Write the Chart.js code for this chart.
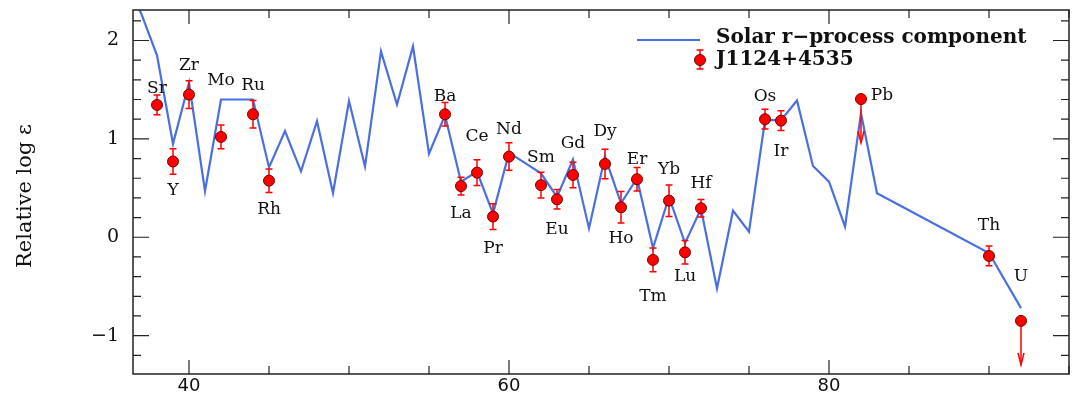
<!DOCTYPE html>
<html>
<head>
<meta charset="utf-8">
<script src="https://cdn.jsdelivr.net/npm/chart.js@4.4.0/dist/chart.umd.min.js"></script>
<style>
  html, body { margin: 0; padding: 0; background: #fff; }
  #wrap { width: 1078px; height: 409px; position: relative; }
</style>
</head>
<body>
<div id="wrap"><canvas id="chart_rproc"></canvas></div>
<script>
// solar r-process pattern (scaled)
var solarZ = [36, 37, 38, 39, 40, 41, 42, 44, 45, 46, 47, 48, 49, 50, 51, 52, 53, 54, 55, 56,
              57, 58, 59, 60, 62, 63, 64, 65, 66, 67, 68, 69, 70, 71, 72, 73, 74, 75, 76, 77,
              78, 79, 80, 81, 82, 83, 90, 92];
var solarVal = [2.6, 2.28, 1.85, 0.95, 1.57, 0.47, 1.40, 1.40, 0.71, 1.08, 0.67, 1.18, 0.45, 1.385, 0.72, 1.89, 1.35, 1.94, 0.85, 1.24,
                0.565, 0.667, 0.24, 0.86, 0.65, 0.41, 0.79, 0.09, 0.82, 0.345, 0.60, -0.11, 0.41, -0.06, 0.29, -0.52, 0.27, 0.057, 1.19, 1.19,
                1.39, 0.725, 0.565, 0.108, 1.26, 0.447, -0.16, -0.72];

// J1124+4535 abundances
var elements = ['Sr', 'Y', 'Zr', 'Mo', 'Ru', 'Rh', 'Ba', 'La', 'Ce', 'Pr', 'Nd', 'Sm', 'Eu', 'Gd', 'Dy', 'Ho', 'Er',
                'Tm', 'Yb', 'Lu', 'Hf', 'Os', 'Ir', 'Pb', 'Th', 'U'];
var starZ = [38, 39, 40, 42, 44, 45, 56, 57, 58, 59, 60, 62, 63, 64, 66, 67, 68, 69, 70, 71, 72, 76, 77, 82, 90, 92];
var starVal = [1.345, 0.77, 1.45, 1.02, 1.25, 0.575, 1.25, 0.52, 0.657, 0.21, 0.82, 0.53, 0.386, 0.633, 0.745, 0.305, 0.59,
               -0.23, 0.372, -0.153, 0.295, 1.20, 1.185, 1.405, -0.19, -0.85];
var starErr = [0.10, 0.13, 0.14, 0.12, 0.14, 0.12, 0.12, 0.09, 0.13, 0.13, 0.14, 0.13, 0.10, 0.13, 0.15, 0.16, 0.12,
               0.12, 0.16, 0.12, 0.09, 0.10, 0.10, 0, 0.10, 0];
var upperLimit = ['Pb', 'U'];

var xTicks = [40, 60, 80];
var yTicks = [-1, 0, 1, 2];

// label offsets from the point, in px
var labelOffset = {
    Sr: [0, -16], Y: [0, 29], Zr: [0, -29], Mo: [0, -56], Ru: [0, -29], Rh: [0, 29], Ba: [0, -18],
    La: [0, 27], Ce: [0, -36], Pr: [0, 32], Nd: [0, -27], Sm: [0, -28], Eu: [0, 30], Gd: [0, -31],
    Dy: [0, -32], Ho: [0, 31], Er: [0, -20], Tm: [0, 37], Yb: [0, -31], Lu: [0, 24], Hf: [0, -25],
    Os: [0, -23], Ir: [0, 31], Pb: [21, -3], Th: [0, -30], U: [0, -44]
};

var blue = '#4a6fe0';
var red = '#ff0000';
var serif = "'DejaVu Serif', serif";

var solarPts = solarZ.map(function (z, i) { return { x: z, y: solarVal[i] }; });
var starPts = starZ.map(function (z, i) { return { x: z, y: starVal[i] }; });

function drawArrow(ctx, x, y0, y1) {
    ctx.beginPath();
    ctx.moveTo(x, y0);
    ctx.lineTo(x, y1);
    ctx.stroke();
    ctx.beginPath();
    ctx.moveTo(x - 3, y1 - 12);
    ctx.lineTo(x, y1);
    ctx.lineTo(x + 3, y1 - 12);
    ctx.stroke();
}

var decorPlugin = {
    id: 'decor',
    afterDatasetDraw: function (chart, args) {
        if (args.index !== 0) return;
        var ctx = chart.ctx, xs = chart.scales.x, ys = chart.scales.y;
        ctx.save();
        ctx.strokeStyle = red;
        ctx.lineWidth = 1.5;
        starZ.forEach(function (z, i) {
            var px = xs.getPixelForValue(z);
            var py = ys.getPixelForValue(starVal[i]);
            if (upperLimit.indexOf(elements[i]) >= 0) {
                drawArrow(ctx, px, py, py + 44);
                return;
            }
            var top = ys.getPixelForValue(starVal[i] + starErr[i]);
            var bot = ys.getPixelForValue(starVal[i] - starErr[i]);
            ctx.beginPath();
            ctx.moveTo(px, top); ctx.lineTo(px, bot);
            ctx.moveTo(px - 3.5, top); ctx.lineTo(px + 3.5, top);
            ctx.moveTo(px - 3.5, bot); ctx.lineTo(px + 3.5, bot);
            ctx.stroke();
        });
        ctx.restore();
    },
    afterDraw: function (chart) {
        var ctx = chart.ctx, xs = chart.scales.x, ys = chart.scales.y, a = chart.chartArea;
        ctx.save();

        // element labels
        ctx.fillStyle = '#111';
        ctx.font = '17px ' + serif;
        ctx.textAlign = 'center';
        ctx.textBaseline = 'middle';
        starZ.forEach(function (z, i) {
            var off = labelOffset[elements[i]];
            var px = xs.getPixelForValue(z) + off[0];
            var py = ys.getPixelForValue(starVal[i]) + off[1];
            ctx.fillText(elements[i], px, py);
        });

        // frame
        ctx.strokeStyle = '#222';
        ctx.lineWidth = 1.5;
        ctx.strokeRect(a.left, a.top, a.right - a.left, a.bottom - a.top);

        // ticks
        ctx.lineWidth = 1.2;
        ctx.beginPath();
        for (var v = 40; v <= 95; v += 5) {
            var px = xs.getPixelForValue(v);
            var len = (v % 20 === 0) ? 14 : 8;
            ctx.moveTo(px, a.bottom); ctx.lineTo(px, a.bottom - len);
            ctx.moveTo(px, a.top); ctx.lineTo(px, a.top + len);
        }
        for (var k = -6; k <= 11; k++) {
            var yv = k * 0.2;
            var py = ys.getPixelForValue(yv);
            var ylen = (k % 5 === 0) ? 16 : 8;
            ctx.moveTo(a.left, py); ctx.lineTo(a.left + ylen, py);
            ctx.moveTo(a.right, py); ctx.lineTo(a.right - ylen, py);
        }
        ctx.stroke();

        // y title
        ctx.save();
        ctx.translate(26, (a.top + a.bottom) / 2 + 4);
        ctx.rotate(-Math.PI / 2);
        ctx.fillStyle = '#111';
        ctx.font = '21px ' + serif;
        ctx.textAlign = 'center';
        ctx.textBaseline = 'middle';
        ctx.fillText('Relative log \u03B5', 0, 0);
        ctx.restore();

        // legend
        ctx.strokeStyle = blue;
        ctx.lineWidth = 2.2;
        ctx.beginPath();
        ctx.moveTo(637, 40); ctx.lineTo(700, 40);
        ctx.stroke();
        ctx.strokeStyle = red;
        ctx.lineWidth = 1.5;
        ctx.beginPath();
        ctx.moveTo(700, 50); ctx.lineTo(700, 69);
        ctx.moveTo(696.5, 50); ctx.lineTo(703.5, 50);
        ctx.moveTo(696.5, 69); ctx.lineTo(703.5, 69);
        ctx.stroke();
        ctx.beginPath();
        ctx.arc(700, 60, 5.5, 0, Math.PI * 2);
        ctx.fillStyle = red;
        ctx.fill();
        ctx.strokeStyle = '#700';
        ctx.lineWidth = 1;
        ctx.stroke();
        ctx.fillStyle = '#111';
        ctx.font = 'bold 20px ' + serif;
        ctx.textAlign = 'left';
        ctx.textBaseline = 'middle';
        ctx.fillText('Solar r\u2212process component', 716, 38);
        ctx.fillText('J1124+4535', 716, 60);

        ctx.restore();
    }
};

var ctx = document.getElementById('chart_rproc').getContext('2d');
var rprocChart = new Chart(ctx, {
    type: 'scatter',
    data: {
        datasets: [
            {
                label: 'Solar r-process component',
                data: solarPts,
                showLine: true,
                borderColor: blue,
                borderWidth: 2.2,
                pointRadius: 0,
                order: 1
            },
            {
                label: 'J1124+4535',
                data: starPts,
                pointRadius: 5.5,
                pointBackgroundColor: red,
                pointBorderColor: '#700',
                pointBorderWidth: 1,
                order: 0
            }
        ]
    },
    options: {
        responsive: true,
        maintainAspectRatio: false,
        animation: false,
        layout: { padding: { left: 0, right: 9, top: 10, bottom: 0 } },
        plugins: {
            legend: { display: false },
            tooltip: { enabled: false }
        },
        scales: {
            x: {
                min: 36.5,
                max: 95,
                afterBuildTicks: function (s) { s.ticks = xTicks.map(function (v) { return { value: v }; }); },
                afterFit: function (s) { s.height = 35; s.paddingLeft = 0; s.paddingRight = 0; },
                grid: { display: false, drawTicks: false },
                border: { display: false },
                ticks: {
                    padding: 2,
                    maxRotation: 0,
                    color: '#111',
                    font: { family: "'DejaVu Sans'", size: 18 }
                }
            },
            y: {
                min: -1.39,
                max: 2.31,
                afterBuildTicks: function (s) { s.ticks = yTicks.map(function (v) { return { value: v }; }); },
                afterFit: function (s) { s.width = 133; s.paddingTop = 0; s.paddingBottom = 0; },
                grid: { display: false, drawTicks: false },
                border: { display: false },
                ticks: {
                    padding: 14,
                    color: '#111',
                    font: { family: serif, size: 19 },
                    callback: function (v) { return v < 0 ? '\u2212' + Math.abs(v) : '' + v; }
                }
            }
        }
    },
    plugins: [decorPlugin]
});
</script>
</body>
</html>
